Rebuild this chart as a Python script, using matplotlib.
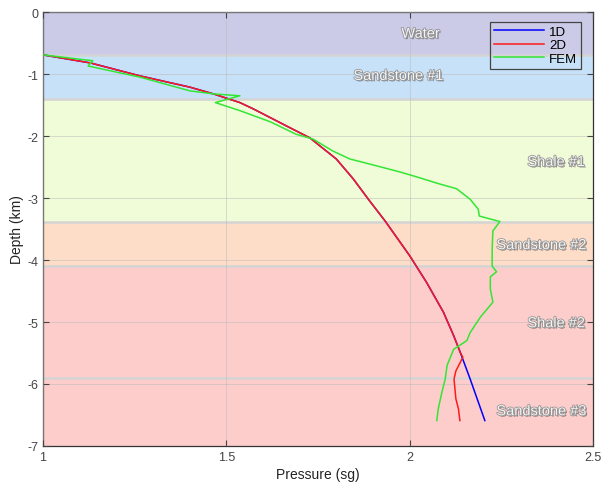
import numpy as np
import matplotlib.pyplot as plt
import matplotlib.patheffects as pe

plt.rcParams['font.family'] = ['Liberation Sans', 'DejaVu Sans']
plt.rcParams['axes.unicode_minus'] = False

# layers: name, top, bottom, colour, label position
layer_names = ['Water', 'Sandstone #1', 'Shale #1', 'Sandstone #2', 'Shale #2', 'Sandstone #3']
layer_top = [0, -0.7, -1.4, -3.38, -4.1, -5.9]
layer_bot = [-0.7, -1.4, -3.38, -4.1, -5.9, -7.0]
layer_col = ['#cbcbe7', '#c7e1f9', '#f0fbd8', '#fddcc8', '#fdcdcc', '#fdcdcc']
label_x = [2.03, 1.97, 2.40, 2.36, 2.40, 2.36]
label_y = [-0.35, -1.03, -2.42, -3.76, -5.02, -6.44]

# 1D curve
p1d = [1.0, 1.129, 1.265, 1.40, 1.465, 1.537, 1.573, 1.665, 1.728, 1.80, 1.846, 1.89, 1.933,
       2.0, 2.046, 2.092, 2.12, 2.138, 2.165, 2.205]
d1d = [-0.69, -0.82, -1.03, -1.21, -1.32, -1.46, -1.56, -1.84, -2.03, -2.37, -2.69, -3.04, -3.37,
       -3.93, -4.36, -4.84, -5.22, -5.49, -5.92, -6.59]
# 2D curve
p2d = [1.0, 1.129, 1.265, 1.40, 1.465, 1.537, 1.573, 1.665, 1.728, 1.80, 1.846, 1.89, 1.933,
       2.0, 2.046, 2.092, 2.12, 2.138, 2.145, 2.126, 2.121, 2.126, 2.133, 2.137]
d2d = [-0.69, -0.82, -1.03, -1.21, -1.32, -1.46, -1.56, -1.84, -2.03, -2.37, -2.69, -3.04, -3.37,
       -3.93, -4.36, -4.84, -5.22, -5.49, -5.57, -5.79, -5.92, -6.24, -6.40, -6.59]
# FEM curve
pfem = [1.0, 1.136, 1.123, 1.265, 1.40, 1.465, 1.537, 1.47, 1.537, 1.62, 1.69, 1.737, 1.79,
        1.837, 1.89, 1.974, 2.02, 2.08, 2.128, 2.165, 2.187, 2.19, 2.246, 2.227, 2.225,
        2.225, 2.237, 2.22, 2.22, 2.227, 2.193, 2.165, 2.156, 2.12, 2.102, 2.097, 2.088,
        2.078, 2.074]
dfem = [-0.69, -0.785, -0.87, -1.05, -1.27, -1.32, -1.35, -1.46, -1.59, -1.77, -1.97, -2.05, -2.24,
        -2.37, -2.45, -2.58, -2.66, -2.77, -2.85, -3.02, -3.18, -3.29, -3.38, -3.53, -3.82,
        -4.1, -4.19, -4.27, -4.47, -4.68, -4.92, -5.17, -5.30, -5.44, -5.70, -5.92, -6.13,
        -6.40, -6.59]

fig = plt.figure(figsize=(6.01, 4.85), dpi=100)
ax = fig.add_axes([0.0715, 0.0784, 0.9152, 0.8946])

for i in range(len(layer_names)):
    ax.axhspan(layer_bot[i], layer_top[i], color=layer_col[i], lw=0, zorder=0)
    if layer_top[i] != 0:
        ax.axhline(layer_top[i], color='#d4d4d4', lw=1.8, zorder=1)
    ax.text(label_x[i], label_y[i], layer_names[i], ha='center', va='center', fontsize=10.5,
            color='#f4f4f4', zorder=5,
            path_effects=[pe.withSimplePatchShadow(offset=(1, -1), shadow_rgbFace='#666666', alpha=0.7),
                          pe.withStroke(linewidth=1.1, foreground='#909090')])

ax.plot(p1d, d1d, color='#0000ff', lw=1.1, label='1D', zorder=3)
ax.plot(p2d, d2d, color='#ff1a1a', lw=1.1, label='2D', zorder=3)
ax.plot(pfem, dfem, color='#33e633', lw=1.1, label='FEM', zorder=3)

ax.set_xlim(1, 2.5)
ax.set_ylim(-7, 0)
ax.set_xticks([1, 1.5, 2, 2.5])
ax.set_xticklabels(['1', '1.5', '2', '2.5'])
ax.set_yticks(range(-7, 1))
ax.grid(True, color='#bbbbbb', lw=0.6, alpha=0.6, zorder=2)
ax.set_axisbelow(False)
ax.tick_params(direction='in', top=True, right=True, labelsize=9, colors='#444444', length=4)
for s in ax.spines.values():
    s.set_color('#333333')
    s.set_linewidth(0.9)
ax.set_xlabel('Pressure (sg)', fontsize=10, color='#222222', labelpad=3)
ax.set_ylabel('Depth (km)', fontsize=10, color='#222222', labelpad=2)

leg = ax.legend(loc='upper right', bbox_to_anchor=(0.979, 0.978), borderaxespad=0, fontsize=9.5,
                fancybox=False, facecolor='none', edgecolor='#444444', framealpha=1,
                handlelength=3.8, handletextpad=0.4, borderpad=0.3, labelspacing=0.1)
leg.get_frame().set_linewidth(0.9)

fig.savefig('out.png', dpi=100)
